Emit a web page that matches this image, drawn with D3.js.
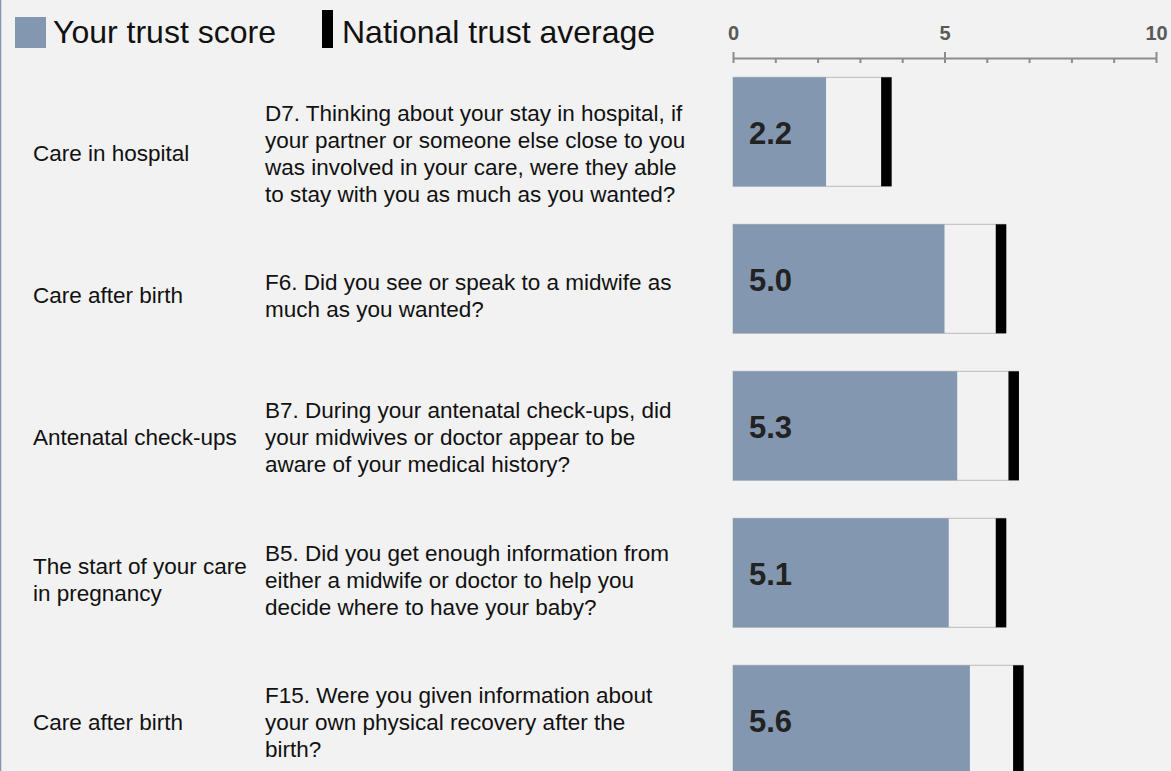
<!DOCTYPE html>
<html>
<head>
<meta charset="utf-8">
<style>
  body { margin: 0; background: #f2f2f2; }
  svg { display: block; font-family: "Liberation Sans", Arial, sans-serif; }
  .row-label, .question { font-size: 22.5px; fill: #111; }
  .legend-text { font-size: 32px; fill: #111; }
  .value-label { font-size: 31px; font-weight: bold; fill: #222; }
  .axis text { font-family: "Liberation Sans", Arial, sans-serif; font-size: 20px; font-weight: bold; fill: #595959; }
  .axis line, .axis path { stroke: #8c8c8c; stroke-width: 2; }
</style>
</head>
<body>
<div id="chart"></div>
<script src="https://d3js.org/d3.v7.min.js"></script>
<script>
// data
var sections = [
  ["Care in hospital"],
  ["Care after birth"],
  ["Antenatal check-ups"],
  ["The start of your care", "in pregnancy"],
  ["Care after birth"]
];
var questions = [
  ["D7. Thinking about your stay in hospital, if",
   "your partner or someone else close to you",
   "was involved in your care, were they able",
   "to stay with you as much as you wanted?"],
  ["F6. Did you see or speak to a midwife as",
   "much as you wanted?"],
  ["B7. During your antenatal check-ups, did",
   "your midwives or doctor appear to be",
   "aware of your medical history?"],
  ["B5. Did you get enough information from",
   "either a midwife or doctor to help you",
   "decide where to have your baby?"],
  ["F15. Were you given information about",
   "your own physical recovery after the",
   "birth?"]
];
var trustScores = [2.2, 5.0, 5.3, 5.1, 5.6];
var nationalAverages = [3.62, 6.33, 6.63, 6.33, 6.74];
var majorTicks = [0, 5, 10];
var legendLabels = ["Your trust score", "National trust average"];

var W = 1171, H = 771;
var barColor = "#8497b0";

var svg = d3.select("#chart").append("svg")
    .attr("width", W)
    .attr("height", H);

// thin left border
svg.append("line")
    .attr("x1", 0.5).attr("x2", 0.5)
    .attr("y1", 0).attr("y2", H)
    .attr("stroke", barColor).attr("stroke-width", 1.5);

var idx = d3.range(trustScores.length);

var x = d3.scaleLinear().domain([0, 10]).range([733, 1156]);

// bars: step 147, bar height 109
var y = d3.scaleBand()
    .domain(idx)
    .range([77.3, 77.3 + 147 * (5 - 0.2585)])
    .paddingInner(0.2585)
    .paddingOuter(0);

// text rows sit a bit differently from the bars
var yText = d3.scalePoint().domain(idx).range([153, 721.7]);

// axis
var axisY = 58;
svg.append("g")
    .attr("class", "axis")
    .attr("transform", "translate(0," + axisY + ")")
    .call(d3.axisBottom(x).ticks(10).tickSize(5).tickSizeOuter(0).tickFormat(""));
svg.append("g")
    .attr("class", "axis")
    .attr("transform", "translate(0," + axisY + ")")
    .call(d3.axisTop(x).tickValues(majorTicks).tickSize(6).tickSizeOuter(0).tickPadding(12))
    .call(function(g) { g.select(".domain").remove(); });

// background boxes up to the national average
var rows = svg.selectAll(".row").data(idx).enter().append("g").attr("class", "row");

rows.append("rect")
    .attr("x", x(0))
    .attr("y", function(i) { return y(i); })
    .attr("width", function(i) { return x(nationalAverages[i]) + 5 - x(0); })
    .attr("height", y.bandwidth())
    .attr("fill", "#f2f2f2")
    .attr("stroke", "#bbb")
    .attr("stroke-width", 1);

rows.append("rect")
    .attr("x", x(0))
    .attr("y", function(i) { return y(i); })
    .attr("width", function(i) { return x(trustScores[i]) - x(0); })
    .attr("height", y.bandwidth())
    .attr("fill", barColor);

rows.append("rect")
    .attr("x", function(i) { return x(nationalAverages[i]) - 5; })
    .attr("y", function(i) { return y(i); })
    .attr("width", 10.5)
    .attr("height", y.bandwidth())
    .attr("fill", "#000");

rows.append("text")
    .attr("class", "value-label")
    .attr("x", x(0) + 16)
    .attr("y", function(i) { return y(i) + y.bandwidth() / 2 + 12; })
    .text(function(i) { return trustScores[i].toFixed(1); });

// left column texts
var lh = 27;
function addLines(sel, cls, xPos, linesOf) {
  sel.append("text")
      .attr("class", cls)
      .attr("x", xPos)
      .each(function(i) {
        var lines = linesOf(i);
        var top = yText(i) - (lines.length - 1) / 2 * lh + 8;
        d3.select(this).selectAll("tspan").data(lines).enter().append("tspan")
            .attr("x", xPos)
            .attr("y", function(d, k) { return top + k * lh; })
            .text(function(d) { return d; });
      });
}
addLines(rows, "row-label", 33, function(i) { return sections[i]; });
addLines(rows, "question", 265, function(i) { return questions[i]; });

// legend
svg.append("rect").attr("x", 15).attr("y", 17).attr("width", 31).attr("height", 31).attr("fill", barColor);
svg.append("text").attr("class", "legend-text").attr("x", 53).attr("y", 43).text(legendLabels[0]);
svg.append("rect").attr("x", 322).attr("y", 10).attr("width", 11).attr("height", 38).attr("fill", "#000");
svg.append("text").attr("class", "legend-text").attr("x", 342).attr("y", 43).text(legendLabels[1]);
</script>
</body>
</html>
